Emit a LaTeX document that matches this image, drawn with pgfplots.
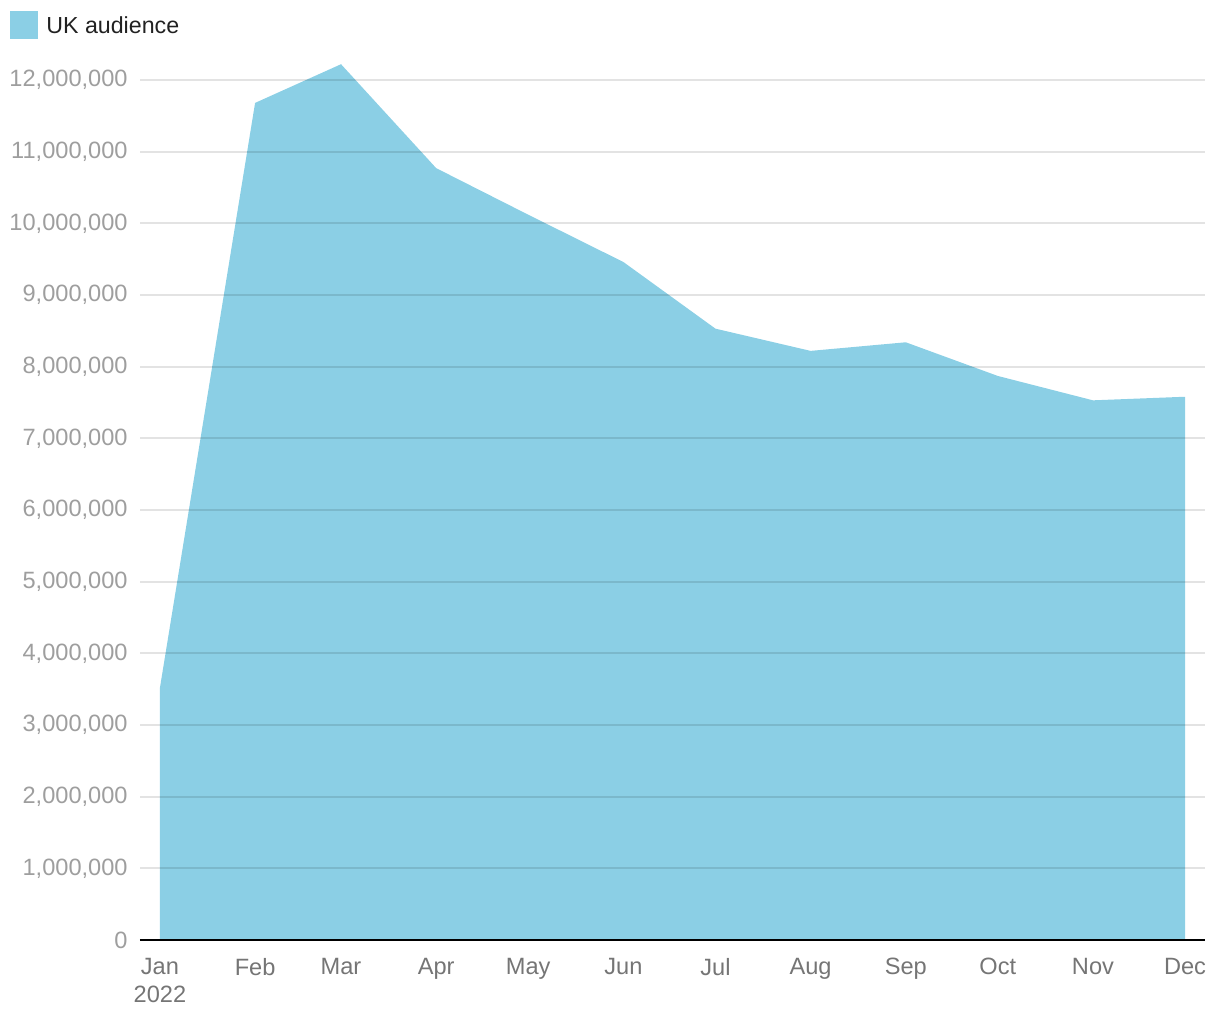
\documentclass[border=0pt]{standalone}
\usepackage{fontspec}
\setmainfont{Liberation Sans}
\usepackage{pgfplots}
\pgfplotsset{compat=1.18}
\definecolor{areaBlue}{RGB}{139,207,229}
\definecolor{yLab}{RGB}{158,158,158}
\definecolor{xLab}{RGB}{117,117,117}
\definecolor{legText}{RGB}{33,33,33}

\begin{document}
\begin{tikzpicture}
\begin{axis}[
    at={(0,0)}, anchor=south west,
    scale only axis, width=532.5pt, height=440.75pt,
    xmin=-6.5, xmax=340.5, ymin=0, ymax=12.3e6,
    axis x line=bottom, axis y line=left,
    x axis line style={-, black, line width=1pt},
    y axis line style={draw=none},
    major tick length=0pt,
    ytick={0,1e6,...,12e6},
    scaled y ticks=false,
    yticklabel style={/pgf/number format/.cd, fixed, 1000 sep={,}, assume math mode=true,
        /tikz/.cd, font=\fontsize{11.8}{14}\selectfont, text=yLab, anchor=east, inner sep=0pt, xshift=-6pt},
    xtick={0,31,59,90,120,151,181,212,243,273,304,334},
    xticklabels={{Jan\\2022},Feb,Mar,Apr,May,Jun,Jul,Aug,Sep,Oct,Nov,Dec},
    xticklabel style={font=\fontsize{11.8}{14}\selectfont, text=xLab, align=center, anchor=north, inner sep=0pt, yshift=-9pt},
    ymajorgrids, grid style={black, opacity=0.11, line width=1pt},
    axis on top,
    legend style={at={(-0.1221,1.0544)}, anchor=north west, draw=none, fill=none, inner sep=0pt,
        font=\fontsize{11.6}{14}\selectfont, text=legText, nodes={inner xsep=2pt, inner ysep=0pt}},
    legend image code/.code={\fill[#1] (0pt,-6.25pt) rectangle (14pt,7.75pt); \path (16pt,0pt);},
]
\addplot[fill=areaBlue, draw=none] coordinates {
    (0,3.52e6) (31,11.68e6) (59,12.22e6) (90,10.77e6) (120,10.12e6) (151,9.46e6)
    (181,8.53e6) (212,8.22e6) (243,8.34e6) (273,7.87e6) (304,7.53e6) (334,7.58e6)
} \closedcycle;
\addlegendentry{UK audience}
\end{axis}
\pgfresetboundingbox
\path[use as bounding box] (-70pt,-40pt) rectangle (540pt,470pt);
\end{tikzpicture}
\end{document}
